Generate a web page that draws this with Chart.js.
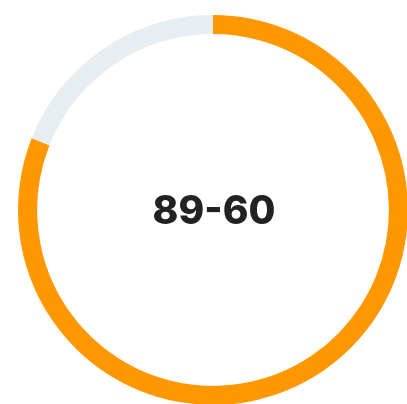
<!DOCTYPE html>
<html>
<head>
<meta charset="utf-8">
<script src="https://cdn.jsdelivr.net/npm/chart.js@4"></script>
<style>
  html, body { margin: 0; padding: 0; background: #fff; overflow: hidden; }
  #wrap { position: relative; width: 407px; height: 404px; }
  #gauge { position: absolute; left: 0; top: 0; }
  #score {
    position: absolute; left: 0; top: 186px; width: 428px; text-align: center;
    font-family: Inter, "Liberation Sans", Arial, sans-serif; font-weight: 800;
    font-size: 39px; line-height: 48px; color: #222;
  }
</style>
</head>
<body>
<div id="wrap">
  <canvas id="gauge" width="426" height="420"></canvas>
  <div id="score"></div>
</div>
<script>
// DATA
var labels = ['Score', 'Rest'];
var values = [81, 19];
var centerText = '89-60';

var ctx = document.getElementById('gauge').getContext('2d');
var chart = new Chart(ctx, {
    type: 'doughnut',
    data: {
        labels: labels,
        datasets: [{
            data: values,
            backgroundColor: ['#ff9800', '#e8edf2'],
            borderWidth: 0
        }]
    },
    options: {
        responsive: false,
        animation: false,
        cutout: '90.2%',
        layout: { padding: 15 },
        plugins: {
            legend: { display: false },
            tooltip: { enabled: false }
        }
    }
});

document.getElementById('score').innerHTML = centerText;
</script>
</body>
</html>
